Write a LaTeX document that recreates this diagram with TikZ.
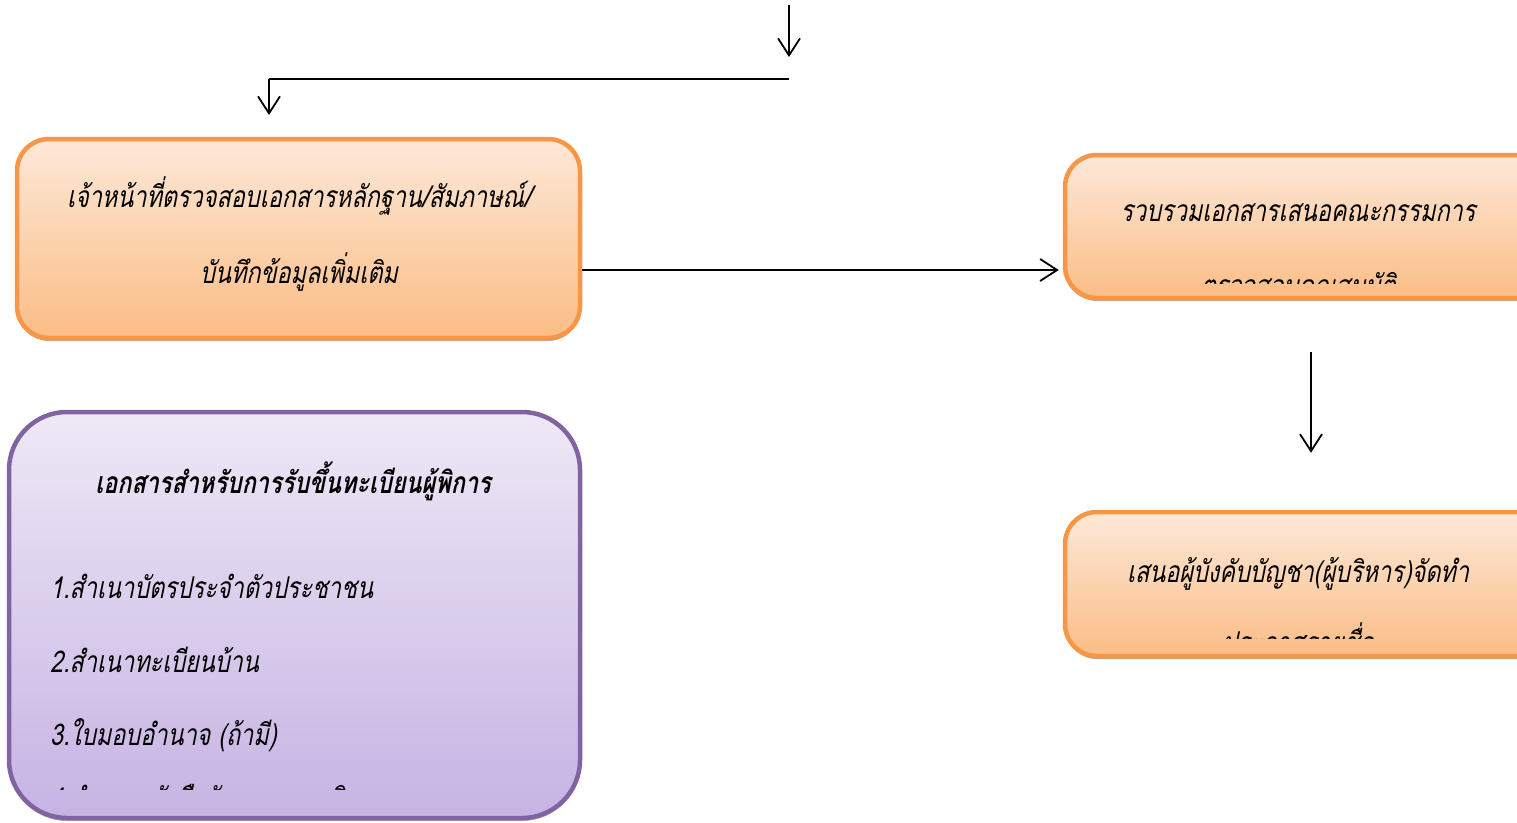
\documentclass[tikz,border=0pt]{standalone}
\usepackage{fontspec}
\newfontfamily\thaifont[Script=Thai,FakeSlant=0.2,FakeStretch=0.78]{Loma}
\usetikzlibrary{arrows.meta,positioning,calc,shadows}
\definecolor{orangeline}{HTML}{F79646}
\definecolor{orangetop}{HTML}{FDE8D8}
\definecolor{orangebottom}{HTML}{FBBD86}
\definecolor{purpleline}{HTML}{8064A2}
\definecolor{purpletop}{HTML}{EEE8F6}
\definecolor{purplebottom}{HTML}{C6B3E3}
\tikzset{
  arr/.style={line width=1.8pt,-{Straight Barb[length=17pt,width=22pt,line width=1.8pt]}},
  boxshadow/.style={drop shadow={shadow xshift=0pt,shadow yshift=-3pt,fill=gray!65,opacity=1}},
  orangebox/.style={draw=orangeline,line width=4.5pt,rounded corners=32pt,
    top color=orangetop,bottom color=orangebottom,boxshadow,inner sep=0pt},
  purplebox/.style={draw=purpleline,line width=4.5pt,rounded corners=58pt,
    top color=purpletop,bottom color=purplebottom,boxshadow,inner sep=0pt},
  thtext/.style={font=\thaifont\fontsize{30}{33}\selectfont,anchor=base,inner sep=0pt},
  thlist/.style={thtext,anchor=base west}
}

\begin{document}
\begin{tikzpicture}[x=1pt,y=-1pt]

    \useasboundingbox (0,0) rectangle (1517,822);
    \clip (0,0) rectangle (1517,822);

    % boxes
    \node[orangebox,minimum width=563pt,minimum height=199pt] (check) at (298.5,238.5) {};
    \node[orangebox,minimum width=492pt,minimum height=143pt] (collect) at (1311,226.5) {};
    \node[orangebox,minimum width=492pt,minimum height=144pt] (propose) at (1311,584) {};
    \node[purplebox,minimum width=571pt,minimum height=406pt] (docs) at (294.5,615) {};

    % texts
    \node[thtext] (checka) at (299,207) {เจ้าหน้าที่ตรวจสอบเอกสารหลักฐาน/สัมภาษณ์/};
    \node[thtext] (checkb) at (299,283) {บันทึกข้อมูลเพิ่มเติม};

    \node[thtext] (collecta) at (1298,221) {รวบรวมเอกสารเสนอคณะกรรมการ};
    \begin{scope}
        \clip (1063,240) rectangle (1517,283);
        \node[thtext] (collectb) at (1298,296) {ตรวจสอบคุณสมบัติ};
    \end{scope}

    \node[thtext] (proposea) at (1298,582) {เสนอผู้บังคับบัญชา(ผู้บริหาร)จัดทำ};
    \begin{scope}
        \clip (1063,600) rectangle (1517,638);
        \node[thtext] (proposeb) at (1298,653) {ประกาศรายชื่อ};
    \end{scope}

    \node[thtext,font=\thaifont\bfseries\fontsize{30}{33}\selectfont] (docstitle) at (293,493) {เอกสารสำหรับการรับขึ้นทะเบียนผู้พิการ};
    \node[thlist] (doca) at (50,598) {1.สำเนาบัตรประจำตัวประชาชน};
    \node[thlist] (docb) at (50,672) {2.สำเนาทะเบียนบ้าน};
    \node[thlist] (docc) at (50,745) {3.ใบมอบอำนาจ (ถ้ามี)};
    \begin{scope}
        \clip (20,760) rectangle (570,789);
        \node[thlist] (docd) at (50,809) {4.สำเนาหนังสือรับรองความพิการ};
    \end{scope}

    % connectors
    \coordinate (top) at (789,5);
    \coordinate (topend) at (789,57);
    \coordinate (split) at (789,79);
    \coordinate (down) at (269,115);

    \draw[arr] (top) -- (topend);
    \draw[line width=1.8pt] (split) -- (split -| down);
    \draw[arr] (split -| down) -- (down);
    \draw[arr] ([yshift=-31.5pt]check.east) -- ([yshift=-31.5pt,xshift=-4pt]check.east -| collect.west);
    \draw[arr] ([yshift=-52pt]collect.south) -- ([yshift=57pt]propose.north);

\end{tikzpicture}
\end{document}
